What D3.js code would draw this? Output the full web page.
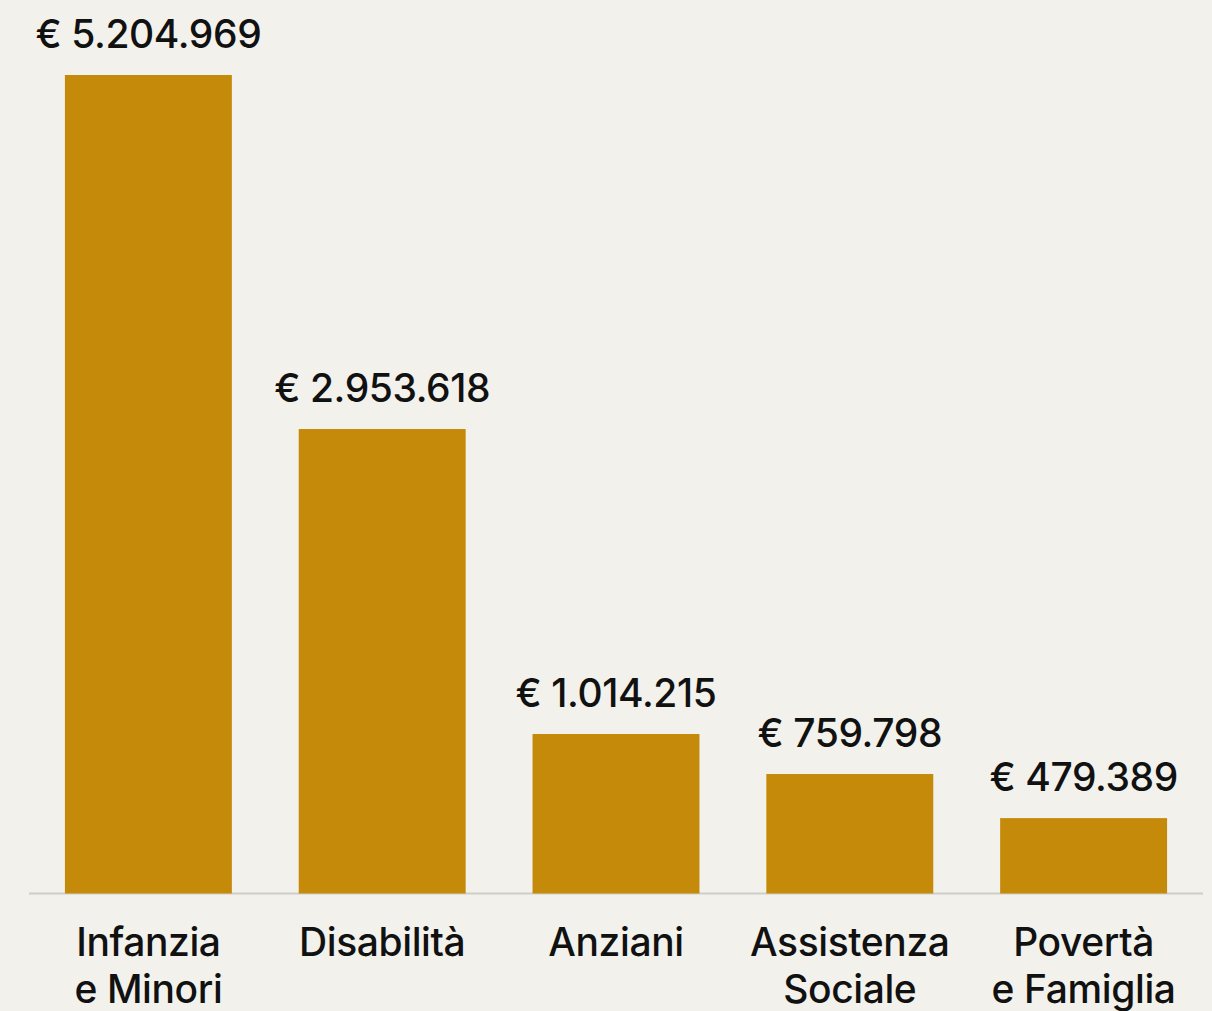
<!DOCTYPE html>
<html>
<head>
<meta charset="utf-8">
<script src="https://cdn.jsdelivr.net/npm/d3@7"></script>
<style>
  html, body { margin: 0; padding: 0; background: #f2f1ec; }
  svg { display: block; font-family: Inter, "Noto Sans", sans-serif; }
</style>
</head>
<body>
<svg id="chart"></svg>
<script>
/* data */
var categories = [["Infanzia", "e Minori"], ["Disabilità"], ["Anziani"], ["Assistenza", "Sociale"], ["Povertà", "e Famiglia"]];
var values = [5204969, 2953618, 1014215, 759798, 479389];
var valueLabels = ["€ 5.204.969", "€ 2.953.618", "€ 1.014.215", "€ 759.798", "€ 479.389"];

var width = 1212, height = 1011,
    baseY = 893.5, topY = 75;

var data = values.map(function(v, i){
  return { key: categories[i].join(" "), lines: categories[i], value: v, label: valueLabels[i] };
});

var svg = d3.select("#chart").attr("width", width).attr("height", height);

var xScale = d3.scaleBand()
  .domain(data.map(function(d){ return d.key; }))
  .range([31.5, 1200.5])
  .paddingInner(0.286)
  .paddingOuter(0.143);

var yScale = d3.scaleLinear()
  .domain([0, d3.max(values)])
  .range([baseY, topY]);

// baseline
svg.append("line")
  .attr("x1", 29).attr("x2", 1203)
  .attr("y1", baseY).attr("y2", baseY)
  .attr("stroke", "#cfcdc8").attr("stroke-width", 2);

// bars
svg.selectAll("rect.bar")
  .data(data)
  .enter().append("rect")
    .attr("class", "bar")
    .attr("x", function(d){ return xScale(d.key); })
    .attr("y", function(d){ return yScale(d.value); })
    .attr("width", xScale.bandwidth())
    .attr("height", function(d){ return baseY - yScale(d.value); })
    .attr("fill", "#c68a0b");

// value labels
svg.selectAll("text.val")
  .data(data)
  .enter().append("text")
    .attr("class", "val")
    .attr("x", function(d){ return xScale(d.key) + xScale.bandwidth() / 2; })
    .attr("y", function(d){ return yScale(d.value) - 27; })
    .attr("text-anchor", "middle")
    .attr("font-size", 39)
    .attr("font-weight", 550)
    .attr("letter-spacing", -0.4)
    .attr("fill", "#111")
    .text(function(d){ return d.label; });

// category labels
var cat = svg.selectAll("text.cat")
  .data(data)
  .enter().append("text")
    .attr("class", "cat")
    .attr("x", function(d){ return xScale(d.key) + xScale.bandwidth() / 2; })
    .attr("y", 956)
    .attr("text-anchor", "middle")
    .attr("font-size", 39)
    .attr("font-weight", 550)
    .attr("letter-spacing", -0.4)
    .attr("fill", "#111");

cat.selectAll("tspan")
  .data(function(d){ return d.lines; })
  .enter().append("tspan")
    .attr("x", function(){ return d3.select(this.parentNode).attr("x"); })
    .attr("dy", function(d, i){ return i ? 47 : 0; })
    .text(function(d){ return d; });
</script>
</body>
</html>
